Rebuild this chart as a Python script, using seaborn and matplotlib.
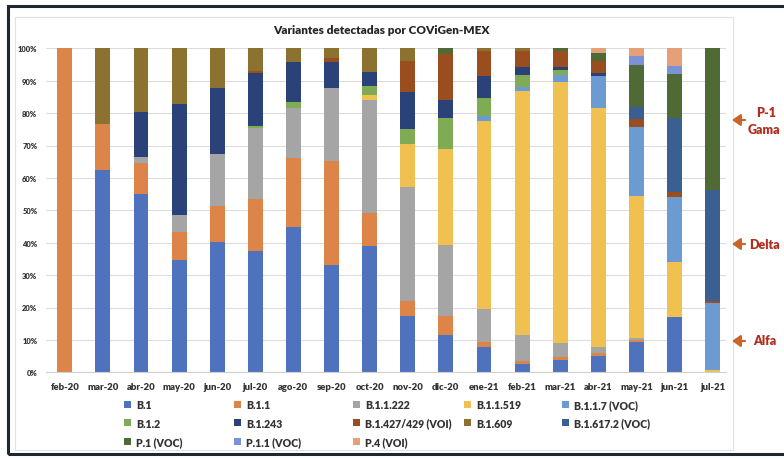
import numpy as np
import pandas as pd
import matplotlib
matplotlib.use("Agg")
import matplotlib.pyplot as plt
import seaborn as sns
from matplotlib.patches import Patch, Rectangle, FancyArrowPatch

months = ["feb-20", "mar-20", "abr-20", "may-20", "jun-20", "jul-20", "ago-20", "sep-20", "oct-20",
          "nov-20", "dic-20", "ene-21", "feb-21", "mar-21", "abr-21", "may-21", "jun-21", "jul-21"]

v_b1      = [0, 62.5, 55.0, 34.7, 40.1, 37.5, 44.7, 33.1, 39.1, 17.5, 11.6, 7.7, 2.6, 3.9, 5.1, 9.3, 17.0, 0]
v_b11     = [100, 14.0, 9.6, 8.7, 11.3, 16.0, 21.3, 32.0, 10.0, 4.6, 5.9, 1.6, 1.0, 0.9, 0.8, 0.7, 0, 0]
v_b11222  = [0, 0, 1.8, 5.1, 15.9, 22.0, 15.5, 22.6, 35.0, 35.2, 21.8, 10.2, 8.0, 4.2, 1.8, 0.6, 0, 0]
v_b11519  = [0, 0, 0, 0, 0, 0, 0, 0, 1.6, 13.2, 29.7, 58.0, 75.1, 80.7, 73.9, 43.7, 17.1, 0.8]
v_b117    = [0, 0, 0, 0, 0, 0, 0, 0, 0, 0, 0, 1.7, 1.3, 2.1, 9.9, 21.5, 19.9, 20.6]
v_b12     = [0, 0, 0, 0, 0, 0.6, 1.8, 0, 2.8, 4.6, 9.5, 5.5, 3.8, 1.5, 0, 0, 0, 0]
v_b1243   = [0, 0, 13.8, 34.2, 20.5, 16.3, 12.4, 8.0, 4.1, 11.5, 5.5, 6.8, 2.3, 1.0, 0.8, 0, 0, 0]
v_b1427   = [0, 0, 0, 0, 0, 0.6, 0, 1.4, 0, 9.6, 14.3, 7.6, 5.0, 4.9, 3.9, 2.4, 1.6, 0.7]
v_b1609   = [0, 23.5, 19.8, 17.3, 12.2, 7.0, 4.3, 2.9, 7.4, 3.8, 0, 0.9, 0.9, 0, 0, 0, 0, 0]
v_b16172  = [0, 0, 0, 0, 0, 0, 0, 0, 0, 0, 0, 0, 0, 0, 0, 3.6, 22.9, 34.2]
v_p1      = [0, 0, 0, 0, 0, 0, 0, 0, 0, 0, 1.7, 0, 0, 0.8, 2.3, 13.1, 13.6, 43.7]
v_p11     = [0, 0, 0, 0, 0, 0, 0, 0, 0, 0, 0, 0, 0, 0, 0, 2.8, 2.3, 0]
v_p4      = [0, 0, 0, 0, 0, 0, 0, 0, 0, 0, 0, 0, 0, 0, 1.5, 2.3, 5.6, 0]

variants = ["B.1", "B.1.1", "B.1.1.222", "B.1.1.519", "B.1.1.7 (VOC)", "B.1.2", "B.1.243",
            "B.1.427/429 (VOI)", "B.1.609", "B.1.617.2 (VOC)", "P.1 (VOC)", "P.1.1 (VOC)", "P.4 (VOI)"]
colors = ["#4f72be", "#dd8449", "#a5a5a5", "#f0c150", "#6c9bd2", "#7fab55", "#2b4279",
          "#9a4e1f", "#8b7230", "#3b5f91", "#4f6a34", "#7b93d6", "#e6a078"]
series = [v_b1, v_b11, v_b11222, v_b11519, v_b117, v_b12, v_b1243, v_b1427, v_b1609,
          v_b16172, v_p1, v_p11, v_p4]

sns.set_theme(style="white")
plt.rcParams['font.family'] = ['Lato', 'DejaVu Sans']

W, H = 784, 460
fig = plt.figure(figsize=(7.84, 4.6), dpi=100)
fig.patch.set_facecolor("white")

def fx(x):
    return x / W

def fy(y):
    return 1 - y / H

# frames
fig.patches.append(Rectangle((fx(8), fy(455)), fx(800) - fx(8), fy(7) - fy(455),
                             transform=fig.transFigure, fill=False, ec="#1e2733", lw=2.2, zorder=0))
fig.patches.append(Rectangle((fx(15), fy(451)), fx(733) - fx(15), fy(18) - fy(451),
                             transform=fig.transFigure, fill=False, ec="#dfe3e8", lw=0.8, zorder=0))

ax = fig.add_axes([fx(45.7), fy(373.3), fx(726) - fx(45.7), fy(49.3) - fy(373.3)])
ax.set_facecolor("none")

cum = np.cumsum(np.array(series, dtype=float), axis=0)
for i in reversed(range(len(variants))):
    d = pd.DataFrame({"month": months, "value": cum[i]})
    sns.barplot(data=d, x="month", y="value", order=months, color=colors[i], width=0.39,
                saturation=1, linewidth=0, errorbar=None, ax=ax)

ax.set_xlim(-0.5, 17.35)
ax.set_ylim(0, 100)
ax.set_yticks(range(0, 101, 10))
ax.set_yticklabels([f"{v}%" for v in range(0, 101, 10)])
ax.yaxis.grid(True, color="#dcdcdc", lw=0.8)
ax.set_axisbelow(True)
for s in ["top", "right", "left"]:
    ax.spines[s].set_visible(False)
ax.spines["bottom"].set_color("#d0d0d0")
ax.spines["bottom"].set_linewidth(0.8)
ax.set_xlabel("")
ax.set_ylabel("")
ax.tick_params(axis="y", length=0, labelsize=5.5, labelcolor="#333333", pad=6)
ax.tick_params(axis="x", length=0, labelsize=6.8, labelcolor="#333333", pad=7)
for lab in ax.get_yticklabels() + ax.get_xticklabels():
    lab.set_fontweight("heavy")

fig.text(fx(381), fy(31), "Variantes detectadas por COViGen-MEX", ha="center", va="center",
         fontsize=8.5, fontweight="heavy", color="#262626")

# legend as 5 columns
cols = [[0, 5, 10], [1, 6, 11], [2, 7, 12], [3, 8], [4, 9]]
col_x = [124, 234, 353, 464, 562]
for cx, idxs in zip(col_x, cols):
    handles = [Patch(facecolor=colors[k], edgecolor="none", label=variants[k]) for k in idxs]
    leg = fig.legend(handles=handles, loc="upper left", bbox_to_anchor=(fx(cx), fy(400)),
                     frameon=False, fontsize=7.6, handlelength=0.65, handleheight=0.65,
                     handletextpad=0.5, labelspacing=0.72, borderpad=0, borderaxespad=0)
    for t in leg.get_texts():
        t.set_fontweight("heavy")
        t.set_color("#333333")

# right annotations
red = "#b32d1e"
arrow_c = "#c8662a"
fig.text(fx(766), fy(113), "P-1", ha="center", va="center", fontsize=9, fontweight="heavy", color=red)
fig.text(fx(764), fy(130), "Gama", ha="center", va="center", fontsize=9, fontweight="heavy", color=red)
fig.text(fx(765), fy(245), "Delta", ha="center", va="center", fontsize=9, fontweight="heavy", color=red)
fig.text(fx(765), fy(341), "Alfa", ha="center", va="center", fontsize=9, fontweight="heavy", color=red)
for yy in [121, 245, 342]:
    fig.add_artist(FancyArrowPatch(
        (fx(745), fy(yy)), (fx(732), fy(yy)), transform=fig.transFigure,
        arrowstyle="-|>,head_length=0.5,head_width=0.35", mutation_scale=10,
        color=arrow_c, lw=1.6, shrinkA=0, shrinkB=0))

fig.savefig("out.png", dpi=100)
